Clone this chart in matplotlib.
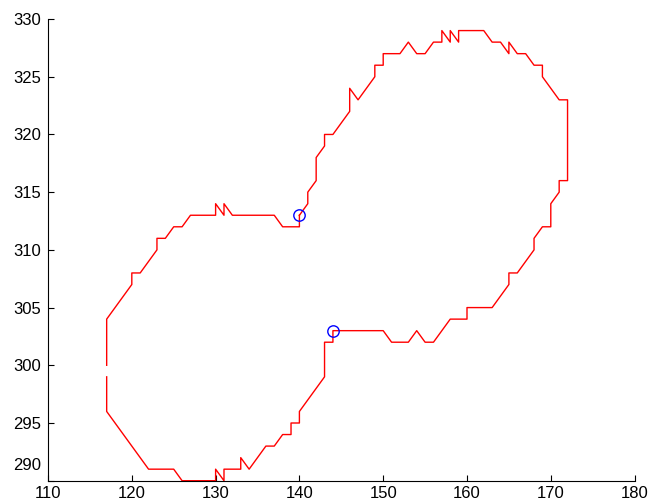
import numpy as np
import matplotlib
matplotlib.use("Agg")
import matplotlib.pyplot as plt
from matplotlib.transforms import ScaledTranslation

# boundary trace (red), NaN marks the break on the left edge
contour_x = [140, 140, 138, 137, 132, 131, 131, 130, 130, 127, 126, 125, 124, 123,
             123, 121, 120, 120, 117, 117, np.nan, 117, 117, 122, 125, 126, 130, 130,
             131, 131, 133, 133, 134, 136, 137, 138, 139, 139, 140, 140, 143, 143,
             144, 144, 150, 151, 153, 154, 155, 156, 158, 160, 160, 163, 165, 165,
             166, 168, 168, 169, 170, 170, 171, 171, 172, 172, 171, 169, 169, 168,
             167, 166, 165, 165, 164, 163, 162, 159, 159, 158, 158, 157, 157, 156,
             155, 154, 153, 152, 150, 150, 149, 149, 147, 146, 146, 144, 143, 143,
             142, 142, 141, 141, 140]
contour_y = [313, 312, 312, 313, 313, 314, 313, 314, 313, 313, 312, 312, 311, 311,
             310, 308, 308, 307, 304, 300, np.nan, 299, 296, 291, 291, 290, 290, 291,
             290, 291, 291, 292, 291, 293, 293, 294, 294, 295, 295, 296, 299, 302,
             302, 303, 303, 302, 302, 303, 302, 302, 304, 304, 305, 305, 307, 308,
             308, 310, 311, 312, 312, 314, 315, 316, 316, 323, 323, 325, 326, 326,
             327, 327, 328, 327, 328, 328, 329, 329, 328, 329, 328, 329, 328, 328,
             327, 327, 328, 327, 327, 326, 326, 325, 323, 324, 322, 320, 320, 319,
             318, 316, 315, 314, 313]

# the two marked points (blue circles)
pts_x = [140, 144]
pts_y = [313, 303]

xticks = list(range(110, 181, 10))
yticks = list(range(290, 331, 5))

plt.rcParams['font.family'] = ['Liberation Sans', 'DejaVu Sans']

fig = plt.figure(figsize=(6.48, 5.01), dpi=100)
ax = fig.add_axes([0.0741, 0.0405, 0.9052, 0.9215])

ax.plot(contour_x, contour_y, color="#ff0000", linewidth=1.0)
ax.plot(pts_x, pts_y, linestyle="none", marker="o", markersize=8.2,
        markerfacecolor="none", markeredgecolor="#0000ff", markeredgewidth=1.0)

ax.set_xlim(110, 180)
ax.set_ylim(290, 330)
ax.set_xticks(xticks)
ax.set_yticks(yticks)

for side in ["top", "right"]:
    ax.spines[side].set_visible(False)
for side in ["left", "bottom"]:
    ax.spines[side].set_linewidth(0.8)
    ax.spines[side].set_color("black")

ax.tick_params(direction="in", length=4, width=0.8, labelsize=12, colors="black")
ax.tick_params(axis="x", pad=3.5)
ax.tick_params(axis="y", pad=5)

# lift the lowest y label clear of the "110" label, as in the original
low = ax.yaxis.get_majorticklabels()[0]
low.set_transform(low.get_transform() + ScaledTranslation(0, 12 / 72, fig.dpi_scale_trans))

fig.savefig("out.png", dpi=100)
